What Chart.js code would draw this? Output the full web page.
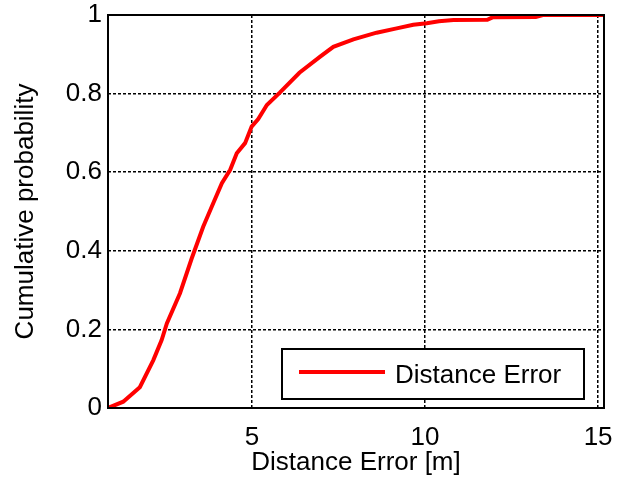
<!DOCTYPE html>
<html>
<head>
<meta charset="utf-8">
<script src="https://cdn.jsdelivr.net/npm/chart.js@4/dist/chart.umd.min.js"></script>
<style>
    html, body { margin: 0; padding: 0; background: #fff; }
    #wrap { width: 627px; height: 486px; }
</style>
</head>
<body>
<div id="wrap"><canvas id="cdf" width="627" height="486"></canvas></div>
<script>
// values
const errorMeters = [0.84, 1.28, 1.76, 2.15, 2.39, 2.54, 2.92, 3.26, 3.59, 3.88, 4.13, 4.37, 4.56, 4.8, 4.99, 5.18, 5.43, 5.81, 6.37, 6.97, 7.35, 7.93, 8.6, 9.18, 9.66, 10.05, 10.4, 10.82, 11.8, 11.95, 13.2, 13.4, 15.17];
const cumulativeProb = [0, 0.016, 0.053, 0.122, 0.173, 0.215, 0.292, 0.381, 0.461, 0.521, 0.572, 0.606, 0.648, 0.674, 0.716, 0.735, 0.771, 0.803, 0.853, 0.894, 0.919, 0.938, 0.955, 0.966, 0.975, 0.979, 0.984, 0.987, 0.988, 0.994, 0.995, 1.0, 1.0];
const xTicks = [5, 10, 15];
const yTicks = [0, 0.2, 0.4, 0.6, 0.8, 1];
const seriesLabel = 'Distance Error';
const xTitle = 'Distance Error [m]';
const yTitle = 'Cumulative probability';

const FONT = 'Arial, "Liberation Sans", sans-serif';

// black frame round the plot area, drawn on top like matlab does
const axesBox = {
    id: 'axesBox',
    afterDatasetsDraw(chart) {
        const { ctx, chartArea: a } = chart;
        ctx.save();
        ctx.strokeStyle = '#000';
        ctx.lineWidth = 2;
        ctx.strokeRect(a.left, a.top, a.right - a.left, a.bottom - a.top);
        ctx.restore();
    }
};

// legend box in the lower right corner of the plot
const boxLegend = {
    id: 'boxLegend',
    afterDraw(chart) {
        const { ctx, chartArea: a } = chart;
        const ds = chart.data.datasets[0];
        ctx.save();
        const w = 302;
        const h = 50;
        const right = a.right - 20;
        const bottom = a.bottom - 9;
        const left = right - w;
        const top = bottom - h;
        ctx.fillStyle = '#fff';
        ctx.fillRect(left, top, w, h);
        ctx.strokeStyle = '#000';
        ctx.lineWidth = 2;
        ctx.strokeRect(left, top, w, h);
        ctx.strokeStyle = ds.borderColor;
        ctx.lineWidth = ds.borderWidth;
        ctx.beginPath();
        ctx.moveTo(left + 17, top + 23);
        ctx.lineTo(left + 103, top + 23);
        ctx.stroke();
        ctx.fillStyle = '#000';
        ctx.font = '26px ' + FONT;
        ctx.textBaseline = 'middle';
        ctx.textAlign = 'left';
        ctx.fillText(ds.label, left + 113, top + 27);
        ctx.restore();
    }
};

const points = errorMeters.map((x, i) => ({ x: x, y: cumulativeProb[i] }));

new Chart(document.getElementById('cdf'), {
    type: 'line',
    data: {
        datasets: [{
            label: seriesLabel,
            data: points,
            borderColor: '#ff0000',
            borderWidth: 4,
            pointRadius: 0,
            tension: 0,
            fill: false
        }]
    },
    options: {
        responsive: false,
        animation: false,
        layout: { padding: { left: 0, right: 23, top: 15, bottom: 0 } },
        plugins: {
            legend: { display: false },
            tooltip: { enabled: false }
        },
        scales: {
            x: {
                type: 'linear',
                min: 0.84,
                max: 15.17,
                afterBuildTicks: (scale) => { scale.ticks = xTicks.map(v => ({ value: v })); },
                afterFit: (scale) => { scale.height = 78; },
                border: { display: false, dash: [3, 2] },
                grid: {
                    color: '#000',
                    lineWidth: 1.5,
                    drawTicks: false
                },
                ticks: {
                    color: '#000',
                    // tall line box keeps the labels low without a big padding
                    font: { family: FONT, size: 26, lineHeight: 1.9 },
                    padding: 5,
                    maxRotation: 0
                },
                title: {
                    display: true,
                    text: xTitle,
                    color: '#000',
                    font: { family: FONT, size: 26, lineHeight: 1.2 },
                    padding: { top: 0, bottom: 8 }
                }
            },
            y: {
                type: 'linear',
                min: 0,
                max: 1,
                afterBuildTicks: (scale) => { scale.ticks = yTicks.map(v => ({ value: v })); },
                afterFit: (scale) => { scale.width = 108; },
                border: { display: false, dash: [3, 2] },
                grid: {
                    color: '#000',
                    lineWidth: 1.5,
                    drawTicks: false
                },
                ticks: {
                    color: '#000',
                    font: { family: FONT, size: 26, lineHeight: 0.6 },
                    padding: 6,
                    callback: (v) => String(v)
                },
                title: {
                    display: true,
                    text: yTitle,
                    color: '#000',
                    font: { family: FONT, size: 26, lineHeight: 1.2 },
                    padding: { top: 10, bottom: 0 }
                }
            }
        }
    },
    plugins: [axesBox, boxLegend]
});
</script>
</body>
</html>
